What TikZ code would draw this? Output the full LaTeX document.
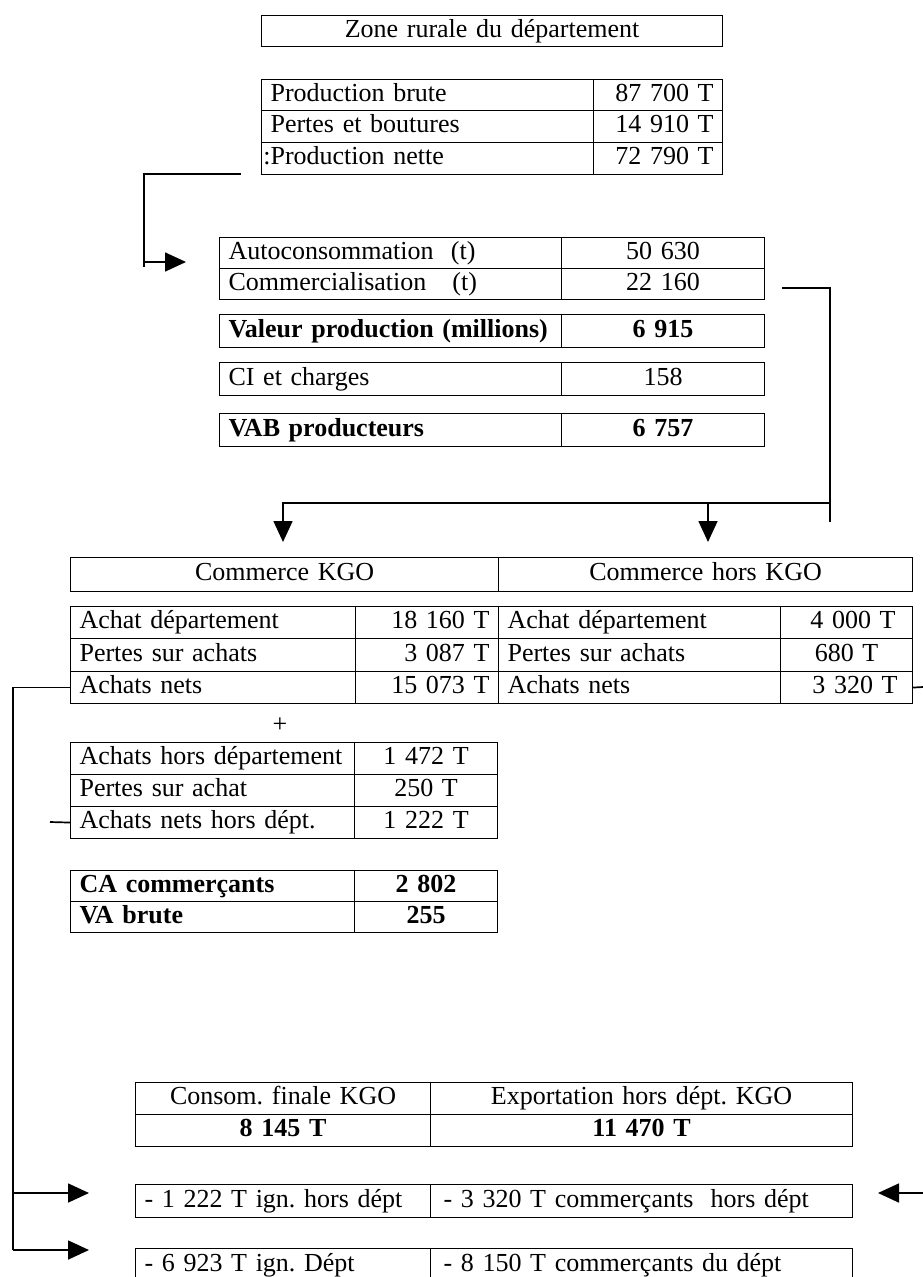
\documentclass[tikz,border=0pt]{standalone}
\usepackage{fontspec}
\setmainfont{Liberation Serif}
\frenchspacing
\usetikzlibrary{arrows.meta}
\tikzset{
  cell/.style={draw, line width=1.1pt, inner xsep=9pt, inner ysep=0pt, anchor=north west,
    text height=18pt, text depth=6pt, font=\fontsize{26}{30}\selectfont},
  conn/.style={line width=1.7pt},
  arr/.style={line width=1.7pt, -{Triangle[length=21pt,width=19pt]}},
  plain/.style={font=\fontsize{26}{30}\selectfont, inner sep=0pt}
}
\newcommand\cellbox[7]{%
  \pgfmathsetmacro\cbtw{#4-18}%
  \node[cell,#6,minimum width=#4pt,text width=\cbtw pt,minimum height=#5pt] (#1) at (#2,#3) {#7};}
\begin{document}
\begin{tikzpicture}[x=1pt,y=-1pt]
\useasboundingbox (0,0) rectangle (923,1277);
% top title
\cellbox{zone}{261}{15}{461}{31}{align=center}{Zone rurale du département}
% production table
\cellbox{pbl}{261}{79}{332}{31}{align=left}{Production brute}
\cellbox{pbv}{593}{79}{129}{31}{align=right}{87 700 T}
\cellbox{ptl}{261}{110}{332}{32}{align=left}{Pertes et boutures}
\cellbox{ptv}{593}{110}{129}{32}{align=right}{14 910 T}
\cellbox{pnl}{261}{142}{332}{32}{align=left}{\llap{:}Production nette}
\cellbox{pnv}{593}{142}{129}{32}{align=right}{72 790 T}
% autoconsommation table
\cellbox{acl}{219}{237}{342}{31}{align=left}{Autoconsommation\ \ (t)}
\cellbox{acv}{561}{237}{203}{31}{align=center}{50 630}
\cellbox{col}{219}{268}{342}{31}{align=left}{Commercialisation\ \ \ (t)}
\cellbox{cov}{561}{268}{203}{31}{align=center}{22 160}
\cellbox{vpl}{219}{314}{342}{33}{align=left}{\textbf{Valeur production (millions)}}
\cellbox{vpv}{561}{314}{203}{33}{align=center}{\textbf{6 915}}
\cellbox{cil}{219}{362}{342}{33}{align=left}{CI et charges}
\cellbox{civ}{561}{362}{203}{33}{align=center}{158}
\cellbox{vbl}{219}{413}{342}{33}{align=left}{\textbf{VAB producteurs}}
\cellbox{vbv}{561}{413}{203}{33}{align=center}{\textbf{6 757}}
% commerce headers
\cellbox{hk}{70}{557}{428}{34}{align=center}{Commerce KGO}
\cellbox{hh}{498}{557}{414}{34}{align=center}{Commerce hors KGO}
% achat table
\cellbox{adl}{70}{606}{285}{32}{align=left}{Achat département}
\cellbox{adv}{355}{606}{143}{32}{align=right}{18 160 T}
\cellbox{adl2}{498}{606}{282}{32}{align=left}{Achat département}
\cellbox{adv2}{780}{606}{132}{32}{align=right}{4 000 T\kern8pt}
\cellbox{psl}{70}{638}{285}{33}{align=left}{Pertes sur achats}
\cellbox{psv}{355}{638}{143}{33}{align=right}{3 087 T}
\cellbox{psl2}{498}{638}{282}{33}{align=left}{Pertes sur achats}
\cellbox{psv2}{780}{638}{132}{33}{align=center}{680 T}
\cellbox{anl}{70}{671}{285}{32}{align=left}{Achats nets}
\cellbox{anv}{355}{671}{143}{32}{align=right}{15 073 T}
\cellbox{anl2}{498}{671}{282}{32}{align=left}{Achats nets}
\cellbox{anv2}{780}{671}{132}{32}{align=right}{3 320 T\kern6pt}
% plus
\node[plain] (plus) at (280,725) {+};
% hors departement table
\cellbox{ahl}{70}{742}{284}{32}{align=left}{Achats hors département}
\cellbox{ahv}{354}{742}{143}{32}{align=center}{1 472 T}
\cellbox{pal}{70}{774}{284}{32}{align=left}{Pertes sur achat}
\cellbox{pav}{354}{774}{143}{32}{align=center}{250 T}
\cellbox{nhl}{70}{806}{284}{32}{align=left}{Achats nets hors dépt.}
\cellbox{nhv}{354}{806}{143}{32}{align=center}{1 222 T}
% CA table
\cellbox{cal}{70}{870}{284}{31}{align=left}{\textbf{CA commerçants}}
\cellbox{cav}{354}{870}{143}{31}{align=center}{\textbf{2 802}}
\cellbox{val}{70}{901}{284}{31}{align=left}{\textbf{VA brute}}
\cellbox{vav}{354}{901}{143}{31}{align=center}{\textbf{255}}
% consommation table
\cellbox{cfl}{135}{1082}{295}{32}{align=center}{Consom. finale KGO}
\cellbox{cfr}{430}{1082}{422}{32}{align=center}{Exportation hors dépt. KGO}
\cellbox{cvl}{135}{1114}{295}{32}{align=center}{\textbf{8 145 T}}
\cellbox{cvr}{430}{1114}{422}{32}{align=center}{\textbf{11 470 T}}
% bottom boxes
\cellbox{b3l}{135}{1184}{295}{33}{align=left}{- 1 222 T ign. hors dépt}
\cellbox{b3r}{430}{1184}{422}{33}{align=left}{\kern4pt- 3 320 T commerçants\ \ hors dépt}
\cellbox{b4l}{135}{1248}{295}{34}{align=left}{- 6 923 T ign. Dépt}
\cellbox{b4r}{430}{1248}{422}{34}{align=left}{\kern4pt- 8 150 T commerçants du dépt}
% connector 1: production nette -> autoconsommation
\coordinate (c1s) at (241,174);
\coordinate (c1v) at (144,267);
\coordinate (c1a) at (144,262);
\coordinate (c1t) at (186,262);
\draw[conn] (c1s) -| (c1v);
\draw[arr] (c1a) -- (c1t);
% connector 2: commercialisation -> commerce
\coordinate (c2s) at (782,288);
\coordinate (c2v) at (830,522);
\coordinate (c2h) at (830,503);
\coordinate (c2l) at (283,542);
\coordinate (c2m) at (708,503);
\coordinate (c2r) at (708,542);
\draw[conn] (c2s) -| (c2v);
\draw[arr] (c2h) -| (c2l);
\draw[arr] (c2m) -- (c2r);
% connector 3: achats nets -> bottom boxes
\coordinate (c3b) at (13,1250);
\coordinate (c3m) at (13,1193);
\coordinate (c3t1) at (89,1193);
\coordinate (c3t2) at (89,1250);
\draw[conn] (anl.west) -| (c3b);
\draw[arr] (c3m) -- (c3t1);
\draw[arr] (c3b) -- (c3t2);
% stubs
\coordinate (s1) at (50,822);
\draw[conn] (nhl.west) -- (s1);
\coordinate (s2) at (923,687);
\draw[conn] (anv2.east) -- (s2);
\coordinate (s3) at (923,1193);
\coordinate (s3t) at (878,1193);
\draw[arr] (s3) -- (s3t);
\end{tikzpicture}
\end{document}
